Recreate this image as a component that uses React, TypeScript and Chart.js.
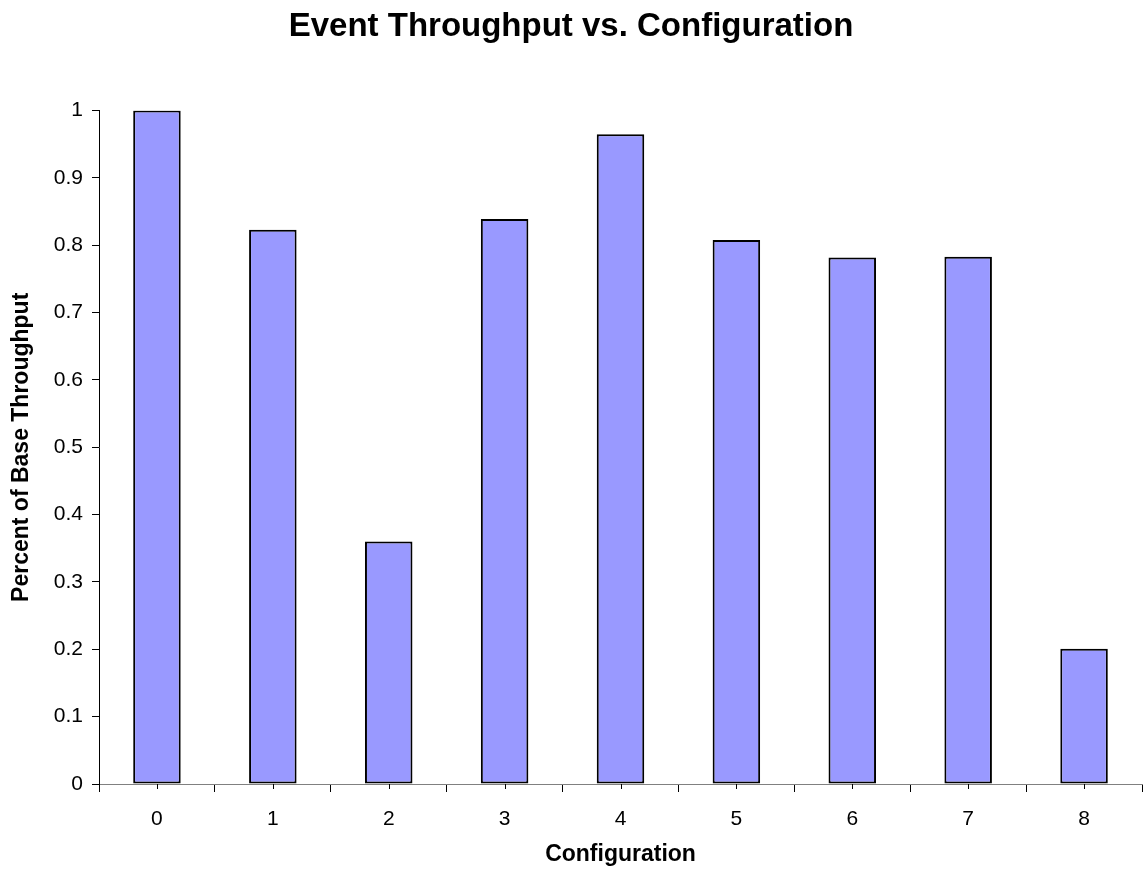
import React, { useEffect, useRef } from "react";
import { Chart, registerables } from "chart.js";

Chart.register(...registerables);

const categories = ["0", "1", "2", "3", "4", "5", "6", "7", "8"];
const throughput = [1.0, 0.823, 0.36, 0.839, 0.965, 0.808, 0.782, 0.783, 0.201];
const chartTitle = "Event Throughput vs. Configuration";
const xTitle = "Configuration";
const yTitle = "Percent of Base Throughput";

const FONT = "'Liberation Sans', Arial, Helvetica, sans-serif";

const centerTicks = {
  id: "centerTicks",
  afterDraw(chart: any) {
    const x = chart.scales.x;
    const ctx = chart.ctx;
    ctx.save();
    ctx.strokeStyle = "#000";
    ctx.lineWidth = 1;
    for (let i = 0; i < categories.length; i++) {
      const px = Math.round(x.getPixelForValue(i)) + 0.5;
      ctx.beginPath();
      ctx.moveTo(px, x.top);
      ctx.lineTo(px, x.top + 5);
      ctx.stroke();
    }
    ctx.restore();
  },
};

export default function App() {
  const ref = useRef<HTMLCanvasElement>(null);
  useEffect(() => {
    if (!ref.current) return;
    const chart = new Chart(ref.current, {
      type: "bar",
      data: {
        labels: categories,
        datasets: [
          {
            data: throughput,
            backgroundColor: "#9999FF",
            borderColor: "#000000",
            borderWidth: 2,
            borderSkipped: false,
            categoryPercentage: 1,
            barPercentage: 0.41,
          },
        ],
      },
      options: {
        animation: false,
        responsive: false,
        layout: { padding: { left: 0, right: 1, top: 0, bottom: 0 } },
        plugins: {
          legend: { display: false },
          tooltip: { enabled: false },
          title: {
            display: true,
            text: chartTitle,
            color: "#000",
            font: { family: FONT, size: 33, weight: "bold" },
            padding: { top: 7, bottom: 64 },
          },
        },
        scales: {
          x: {
            offset: true,
            grid: {
              offset: true,
              drawOnChartArea: false,
              drawTicks: true,
              tickLength: 8,
              tickColor: "#000",
            },
            border: { color: "#808080", width: 1 },
            ticks: {
              color: "#000",
              font: { family: FONT, size: 21 },
              padding: 15,
              maxRotation: 0,
            },
            title: {
              display: true,
              text: xTitle,
              color: "#000",
              font: { family: FONT, size: 23, weight: "bold" },
              padding: { top: 0, bottom: 3 },
            },
            afterFit(scale: any) {
              scale.height = 87;
            },
          },
          y: {
            min: 0,
            max: 1,
            grid: {
              drawOnChartArea: false,
              drawTicks: true,
              tickLength: 7,
              tickColor: "#000",
            },
            border: { color: "#000", width: 1 },
            ticks: {
              stepSize: 0.1,
              color: "#000",
              font: { family: FONT, size: 21 },
              padding: 9,
              callback: (v: any) => Number(v).toFixed(1).replace(/\.0$/, ""),
            },
            title: {
              display: true,
              text: yTitle,
              color: "#000",
              font: { family: FONT, size: 23, weight: "bold" },
              padding: { top: 8, bottom: 0 },
            },
            afterFit(scale: any) {
              scale.width = 99;
            },
          },
        },
      },
      plugins: [centerTicks],
    });
    return () => chart.destroy();
  }, []);
  return (
    <canvas
      ref={ref}
      width={1143}
      height={871}
      style={{ position: "fixed", left: 0, top: 0, width: 1143, height: 871, background: "#fff" }}
    />
  );
}
